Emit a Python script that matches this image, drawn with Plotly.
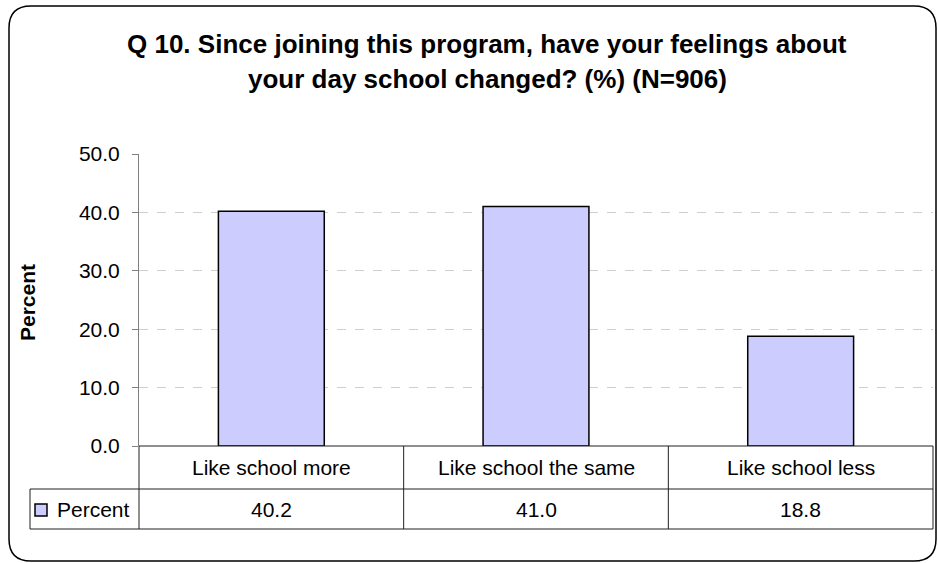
import plotly.graph_objects as go

# ---- data ----
categories = ["Like school more", "Like school the same", "Like school less"]
percent = [40.2, 41.0, 18.8]
series_name = "Percent"
y_ticks = [0, 10, 20, 30, 40, 50]
title_lines = [
    "Q 10. Since joining this program, have your feelings about",
    "your day school changed? (%) (N=906)",
]

# ---- layout geometry (pixels) ----
W, H = 938, 563


def px(x):
    return x / W


def py(y):
    return 1 - y / H


X0, X1 = 139, 933      # plot area left/right
Y0, Y1 = 446, 154      # plot area bottom/top
ROW1, ROW2 = 489, 529  # table row bottoms
LEFT = 30              # table left edge (legend column)
FONT = "Liberation Sans, Arial, sans-serif"
BAR_FILL = "#CCCCFF"
FS = 21
n = len(categories)

fig = go.Figure(
    go.Bar(
        x=list(range(n)),
        y=percent,
        width=0.4,
        marker=dict(color=BAR_FILL, line=dict(color="black", width=1.5)),
        name=series_name,
        showlegend=False,
    )
)

fig.update_layout(
    width=W,
    height=H,
    margin=dict(l=0, r=0, t=0, b=0),
    paper_bgcolor="white",
    plot_bgcolor="white",
    template="none",
    font=dict(family=FONT, size=FS, color="black"),
    xaxis=dict(
        domain=[px(X0), px(X1)],
        range=[-0.5, n - 0.5],
        showticklabels=False,
        showgrid=False,
        zeroline=False,
        showline=False,
        ticks="",
        automargin=False,
        fixedrange=True,
    ),
    yaxis=dict(
        domain=[py(Y0), py(Y1)],
        range=[y_ticks[0], y_ticks[-1]],
        tickvals=y_ticks,
        ticktext=[f"{v:.1f}" for v in y_ticks],
        ticks="outside",
        ticklen=6,
        tickcolor="#808080",
        tickwidth=1,
        ticklabelstandoff=8,
        showline=True,
        linecolor="#808080",
        linewidth=1,
        showgrid=True,
        gridcolor="#CFCFCF",
        griddash="dash",
        gridwidth=1,
        zeroline=False,
        automargin=False,
        tickfont=dict(family=FONT, size=FS, color="black"),
        fixedrange=True,
    ),
)

shapes = []
LINE = dict(color="#202020", width=1)

# table horizontal lines
shapes.append(dict(type="line", xref="paper", yref="paper",
                   x0=px(X0), x1=px(X1), y0=py(Y0), y1=py(Y0), line=LINE))
for yy in (ROW1, ROW2):
    shapes.append(dict(type="line", xref="paper", yref="paper",
                       x0=px(LEFT), x1=px(X1), y0=py(yy), y1=py(yy), line=LINE))
# table vertical lines
shapes.append(dict(type="line", xref="paper", yref="paper",
                   x0=px(LEFT), x1=px(LEFT), y0=py(ROW1), y1=py(ROW2), line=LINE))
for k in range(n + 1):
    xx = X0 + k * (X1 - X0) / n
    shapes.append(dict(type="line", xref="paper", yref="paper",
                       x0=px(xx), x1=px(xx), y0=py(Y0), y1=py(ROW2), line=LINE))
# legend key
shapes.append(dict(type="rect", xref="paper", yref="paper",
                   x0=px(35), x1=px(47), y0=py(504), y1=py(516),
                   fillcolor=BAR_FILL, line=dict(color="black", width=1.5)))

# rounded outer border
bx0, by0, bx1, by1, r = 9, 6, 936, 561, 22
path = (
    f"M {px(bx0 + r)},{py(by0)} L {px(bx1 - r)},{py(by0)} "
    f"Q {px(bx1)},{py(by0)} {px(bx1)},{py(by0 + r)} "
    f"L {px(bx1)},{py(by1 - r)} Q {px(bx1)},{py(by1)} {px(bx1 - r)},{py(by1)} "
    f"L {px(bx0 + r)},{py(by1)} Q {px(bx0)},{py(by1)} {px(bx0)},{py(by1 - r)} "
    f"L {px(bx0)},{py(by0 + r)} Q {px(bx0)},{py(by0)} {px(bx0 + r)},{py(by0)} Z"
)
shapes.append(dict(type="path", xref="paper", yref="paper", path=path,
                   line=dict(color="black", width=1.5), layer="below"))

annotations = []
# category row and value row
for i, (c, v) in enumerate(zip(categories, percent)):
    annotations.append(dict(xref="x", yref="paper", x=i, y=py((Y0 + ROW1) / 2),
                            text=c, showarrow=False, xanchor="center", yanchor="middle",
                            font=dict(family=FONT, size=FS, color="black")))
    annotations.append(dict(xref="x", yref="paper", x=i, y=py((ROW1 + ROW2) / 2),
                            text=f"{v:.1f}", showarrow=False, xanchor="center", yanchor="middle",
                            font=dict(family=FONT, size=FS, color="black")))
annotations.append(dict(xref="paper", yref="paper", x=px(55), y=py((ROW1 + ROW2) / 2),
                        text=series_name, showarrow=False, xanchor="left", yanchor="middle",
                        font=dict(family=FONT, size=FS, color="black")))
# y-axis title
annotations.append(dict(xref="paper", yref="paper", x=px(27), y=py(303),
                        text="<b>Percent</b>", showarrow=False, textangle=-90,
                        xanchor="center", yanchor="middle",
                        font=dict(family=FONT, size=FS, color="black")))
# title lines
for j, (line_txt, yc) in enumerate(zip(title_lines, (44, 79))):
    annotations.append(dict(xref="paper", yref="paper", x=px(487), y=py(yc),
                            text=f"<b>{line_txt}</b>", showarrow=False,
                            xanchor="center", yanchor="middle",
                            font=dict(family=FONT, size=26, color="black")))

fig.update_layout(shapes=shapes, annotations=annotations)

fig.write_html("out.html", config={"displayModeBar": False},
               post_script="document.body.style.margin='0';")
